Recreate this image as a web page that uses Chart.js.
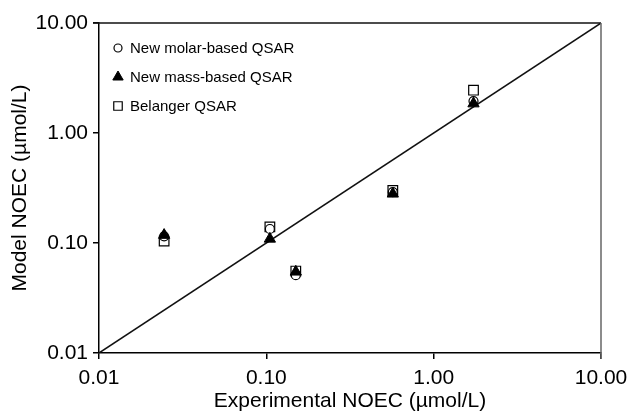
<!DOCTYPE html>
<html><head><meta charset="utf-8">
<script src="https://cdn.jsdelivr.net/npm/chart.js@4/dist/chart.umd.min.js"></script>
<style>html,body{margin:0;padding:0;background:#fff}</style>
</head><body>
<canvas id="c" width="630" height="417"></canvas>
<script>
const experimentalNOEC = [0.0245, 0.105, 0.150, 0.57, 1.73];
const molarQSAR       = [0.115, 0.134, 0.051, 0.29, 1.95];
const massQSAR        = [0.118, 0.109, 0.0547, 0.28, 1.85];
const belangerQSAR    = [0.104, 0.140, 0.0556, 0.30, 2.45];
const seriesNames = ["New molar-based QSAR", "New mass-based QSAR", "Belanger QSAR"];
const tickValues = [0.01, 0.1, 1, 10];
const tickLabels = ["0.01", "0.10", "1.00", "10.00"];
const oneToOne = [0.01, 10];

const FONT = "'Liberation Sans', Arial, Helvetica, sans-serif";
const pts = ys => experimentalNOEC.map((x, i) => ({x: x, y: ys[i]}));

const legendStyles = [
  {pointStyle: 'circle', radius: 4, borderWidth: 1.2, borderColor: '#000', backgroundColor: '#fff'},
  {pointStyle: 'triangle', radius: 6, borderWidth: 1, borderColor: '#000', backgroundColor: '#000'},
  {pointStyle: 'rect', radius: 6, borderWidth: 1.2, borderColor: '#000', backgroundColor: '#fff'}
];

const legendPlugin = {
  id: 'insideLegend',
  afterDatasetsDraw(chart) {
    const ctx = chart.ctx, a = chart.chartArea;
    ctx.save();
    ctx.font = "15px " + FONT;
    ctx.textBaseline = 'middle';
    seriesNames.forEach((n, i) => {
      const y = a.top + 25 + i * 29;
      const st = legendStyles[i];
      ctx.fillStyle = st.backgroundColor; ctx.strokeStyle = st.borderColor; ctx.lineWidth = st.borderWidth;
      Chart.helpers.drawPoint(ctx, {pointStyle: st.pointStyle, radius: st.radius, rotation: 0, borderWidth: st.borderWidth}, a.left + 19, y);
      ctx.fillStyle = '#000';
      ctx.fillText(n, a.left + 31, y + 1);
    });
    ctx.restore();
  }
};

const framePlugin = {
  id: 'frame',
  afterDraw(chart) {
    const ctx = chart.ctx, a = chart.chartArea;
    ctx.save();
    ctx.lineWidth = 1.5;
    ctx.strokeStyle = '#111';
    ctx.beginPath(); ctx.moveTo(a.left - 6, a.top); ctx.lineTo(a.right, a.top); ctx.stroke();
    ctx.strokeStyle = '#666';
    ctx.beginPath(); ctx.moveTo(a.right, a.top); ctx.lineTo(a.right, a.bottom + 6); ctx.stroke();
    ctx.restore();
  }
};

new Chart(document.getElementById('c'), {
  type: 'scatter',
  data: {
    datasets: [
      {label: seriesNames[0], data: pts(molarQSAR), pointStyle: 'circle', pointRadius: 4.5,
       borderColor: '#000', backgroundColor: '#fff', pointBorderWidth: 1.2, order: 1},
      {label: seriesNames[1], data: pts(massQSAR), pointStyle: 'triangle', pointRadius: 6.5,
       borderColor: '#000', backgroundColor: '#000', pointBorderWidth: 1, order: 0},
      {label: seriesNames[2], data: pts(belangerQSAR), pointStyle: 'rect', pointRadius: 6.8,
       borderColor: '#000', backgroundColor: '#fff', pointBorderWidth: 1.2, order: 2},
      {type: 'line', label: '1:1', data: oneToOne.map(v => ({x: v, y: v})), borderColor: '#111',
       borderWidth: 1.5, pointRadius: 0, fill: false, order: 3}
    ]
  },
  plugins: [legendPlugin, framePlugin],
  options: {
    responsive: false,
    animation: false,
    events: [],
    layout: {padding: {top: 23, right: 29, left: 0, bottom: 0}},
    plugins: {legend: {display: false}, tooltip: {enabled: false}},
    scales: {
      x: {
        type: 'logarithmic', min: 0.01, max: 10,
        afterBuildTicks: s => { s.ticks = tickValues.map(v => ({value: v})); },
        afterFit: s => { s.height = 64; s.paddingLeft = 0; s.paddingRight = 0; },
        ticks: {callback: (v, i) => tickLabels[i], color: '#000', font: {family: FONT, size: 21}, padding: 7, maxRotation: 0},
        grid: {drawOnChartArea: false, drawTicks: true, tickLength: 6, color: '#000', lineWidth: 1.5},
        border: {display: true, color: '#000', width: 1.5},
        title: {display: true, text: 'Experimental NOEC (µmol/L)', color: '#000', font: {family: FONT, size: 21}, padding: {top: 0, bottom: 3}}
      },
      y: {
        type: 'logarithmic', min: 0.01, max: 10,
        afterBuildTicks: s => { s.ticks = tickValues.map(v => ({value: v})); },
        afterFit: s => { s.width = 99; s.paddingTop = 0; s.paddingBottom = 0; },
        ticks: {callback: (v, i) => tickLabels[i], color: '#000', font: {family: FONT, size: 21}, padding: 5},
        grid: {drawOnChartArea: false, drawTicks: true, tickLength: 6, color: '#000', lineWidth: 1.5},
        border: {display: true, color: '#000', width: 1.5},
        title: {display: true, text: 'Model NOEC (µmol/L)', color: '#000', font: {family: FONT, size: 21}, padding: {top: 8, bottom: 0}}
      }
    }
  }
});
</script>
</body></html>
